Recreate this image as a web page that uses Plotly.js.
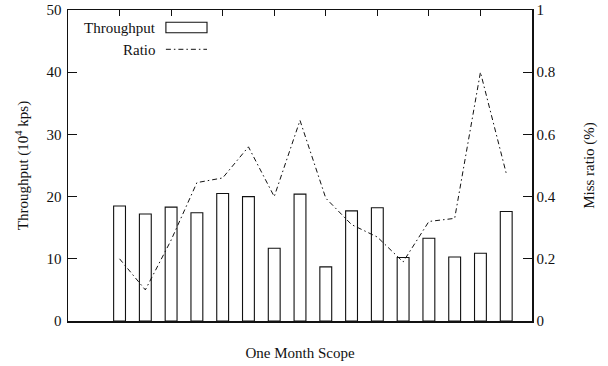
<!DOCTYPE html>
<html>
<head>
<meta charset="utf-8">
<script src="https://cdn.plot.ly/plotly-3.0.1.min.js"></script>
<style>
  html, body { margin: 0; padding: 0; background: #fff; }
  #chart { width: 608px; height: 366px; }
</style>
</head>
<body>
<div id="chart"></div>
<script>
// Sample positions along the month (one per bar)
const samples = [2, 3, 4, 5, 6, 7, 8, 9, 10, 11, 12, 13, 14, 15, 16, 17];
// Throughput in units of 10^4 kps
const throughput = [18.5, 17.2, 18.3, 17.4, 20.5, 20.0, 11.7, 20.4, 8.7, 17.7, 18.2, 10.2, 13.3, 10.3, 10.9, 17.6];
// Miss ratio (%)
const ratio = [0.20, 0.10, 0.26, 0.445, 0.46, 0.56, 0.40, 0.645, 0.395, 0.31, 0.27, 0.19, 0.32, 0.33, 0.80, 0.475];
// Tick marks along the top edge
const topTicks = [2, 4, 6, 8, 10, 12, 14, 16];
const leftTicks = [0, 10, 20, 30, 40, 50];
const rightTicks = [0, 0.2, 0.4, 0.6, 0.8, 1];

const ink = '#111';
const textFont = { family: 'Liberation Serif', size: 15, color: ink };

const traces = [
  {
    type: 'bar',
    name: 'Throughput',
    x: samples,
    y: throughput,
    width: 0.46,
    marker: { color: '#ffffff', line: { color: ink, width: 1.1 } },
    xaxis: 'x',
    yaxis: 'y',
    hoverinfo: 'skip'
  },
  {
    type: 'scatter',
    mode: 'lines',
    name: 'Ratio',
    x: samples,
    y: ratio,
    line: { color: ink, width: 1, dash: '5px,3px,1.5px,3px' },
    xaxis: 'x2',
    yaxis: 'y2',
    hoverinfo: 'skip'
  }
];

const layout = {
  width: 608,
  height: 366,
  margin: { l: 68, r: 76, t: 10, b: 45 },
  paper_bgcolor: '#fff',
  plot_bgcolor: '#fff',
  showlegend: false,
  font: textFont,
  xaxis: {
    range: [0, 18],
    showgrid: false,
    zeroline: false,
    showline: true,
    linecolor: ink,
    linewidth: 1.5,
    ticks: '',
    showticklabels: false,
    title: { text: 'One Month Scope', font: textFont, standoff: 26 }
  },
  xaxis2: {
    overlaying: 'x',
    side: 'top',
    anchor: 'y2',
    range: [0, 18],
    showgrid: false,
    zeroline: false,
    showline: true,
    linecolor: ink,
    linewidth: 1.5,
    tickmode: 'array',
    tickvals: topTicks,
    ticks: 'inside',
    ticklen: 6,
    tickcolor: ink,
    showticklabels: false
  },
  yaxis: {
    range: [0, 50],
    tickmode: 'array',
    tickvals: leftTicks,
    showgrid: false,
    zeroline: false,
    showline: true,
    linecolor: ink,
    linewidth: 1.5,
    ticks: 'inside',
    ticklen: 9,
    tickcolor: ink,
    ticklabelstandoff: 2,
    tickfont: textFont,
    title: { text: 'Throughput (10<sup>4</sup> kps)', font: textFont, standoff: 14 }
  },
  yaxis2: {
    overlaying: 'y',
    side: 'right',
    anchor: 'x2',
    range: [0, 1],
    tickmode: 'array',
    tickvals: rightTicks,
    ticktext: rightTicks.map(v => String(v)),
    showgrid: false,
    zeroline: false,
    showline: true,
    linecolor: ink,
    linewidth: 1.5,
    ticks: 'inside',
    ticklen: 9,
    tickcolor: ink,
    ticklabelstandoff: 0,
    tickfont: textFont,
    title: { text: 'Miss ratio (%)', font: textFont, standoff: 28 }
  },
  // Key in the upper-left corner: label on the left, sample on the right
  annotations: [
    { xref: 'paper', yref: 'paper', x: 0.194, y: 0.942, xanchor: 'right', yanchor: 'middle',
      text: 'Throughput', showarrow: false, font: textFont },
    { xref: 'paper', yref: 'paper', x: 0.194, y: 0.871, xanchor: 'right', yanchor: 'middle',
      text: 'Ratio', showarrow: false, font: textFont }
  ],
  shapes: [
    { type: 'rect', xref: 'paper', yref: 'paper', x0: 0.211, x1: 0.2996, y0: 0.927, y1: 0.9605,
      line: { color: ink, width: 1.1 }, fillcolor: '#fff' },
    { type: 'line', xref: 'paper', yref: 'paper', x0: 0.211, x1: 0.2996, y0: 0.8736, y1: 0.8736,
      line: { color: ink, width: 1, dash: '5px,3px,1.5px,3px' } }
  ]
};

Plotly.newPlot('chart', traces, layout, { displayModeBar: false, staticPlot: true });
</script>
</body>
</html>
